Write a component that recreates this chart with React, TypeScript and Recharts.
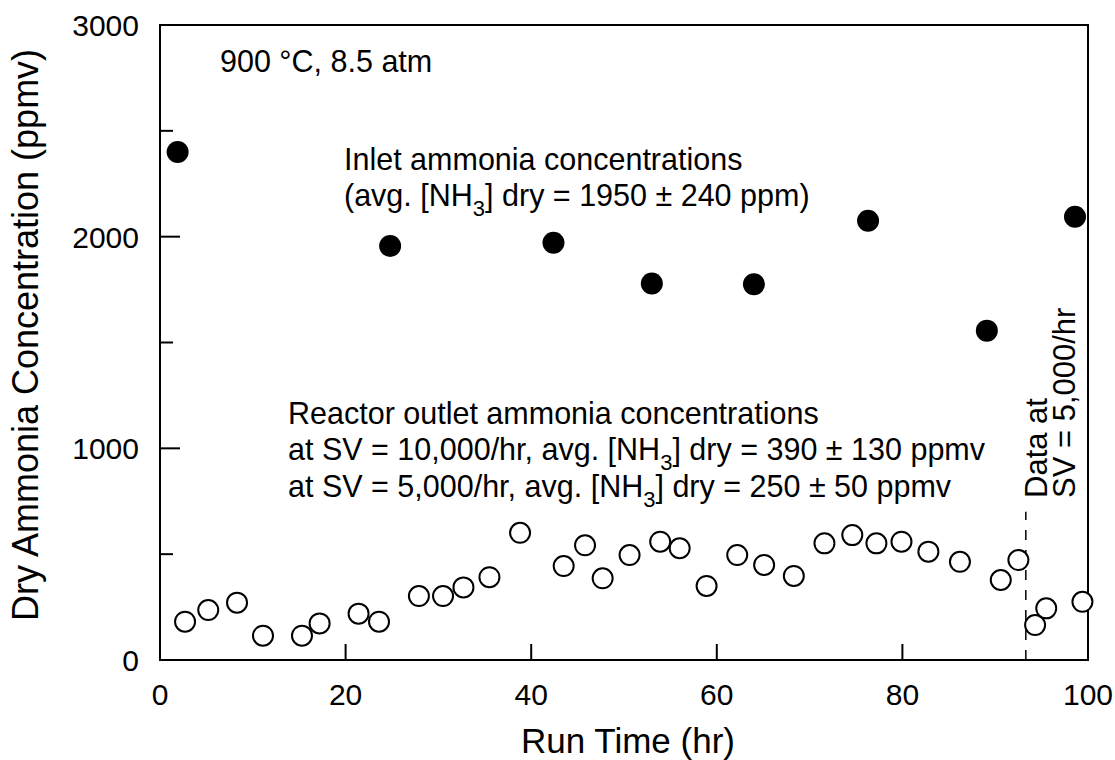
import React from 'react';
import { ScatterChart, Scatter, XAxis, YAxis, ReferenceArea, ReferenceLine } from 'recharts';

// inlet (filled) points
const inletTime = [1.9, 24.8, 42.4, 53.0, 64.0, 76.3, 89.1, 98.6];
const inletConc = [2400, 1956, 1971, 1779, 1775, 2075, 1556, 2094];

// reactor outlet at SV = 10,000/hr
const outletTime10k = [
  2.7, 5.2, 8.3, 11.1, 15.3, 17.2, 21.4, 23.6, 27.9, 30.5, 32.7, 35.5, 38.8, 43.5, 45.8, 47.7,
  50.6, 53.9, 56.0, 58.9, 62.2, 65.1, 68.3, 71.6, 74.6, 77.2, 79.9, 82.8, 86.2, 90.6, 92.5,
];
const outletConc10k = [
  181, 236, 271, 115, 115, 173, 219, 181, 302, 302, 343, 391, 601, 444, 542, 386,
  496, 559, 528, 350, 496, 449, 397, 551, 590, 551, 559, 512, 464, 378, 472,
];

// reactor outlet at SV = 5,000/hr
const outletTime5k = [94.3, 95.5, 99.4];
const outletConc5k = [165, 244, 275];

const svSwitchTime = 93.3;
const svSwitchTop = 700;

const xTicks = [0, 20, 40, 60, 80, 100];
const yTicks = [0, 500, 1000, 1500, 2000, 2500, 3000];

const FONT = '"Liberation Sans", Arial, Helvetica, sans-serif';
const NOTE = 30.5;

const toPoints = (xs: number[], ys: number[]) => xs.map((x, i) => ({ x, y: ys[i] }));

const inletData = toPoints(inletTime, inletConc);
const outlet10kData = toPoints(outletTime10k, outletConc10k);
const outlet5kData = toPoints(outletTime5k, outletConc5k);

const FilledDot = (p: any) => <circle cx={p.cx} cy={p.cy} r={11} fill="#000" />;
const OpenDot = (p: any) => (
  <circle cx={p.cx} cy={p.cy} r={10} fill="#fff" stroke="#000" strokeWidth={2} />
);

const XTick = (props: any) => {
  const { x, y, payload } = props;
  const v = payload.value;
  return (
    <g>
      {v > 0 && v < 100 && <line x1={x} x2={x} y1={y} y2={y - 16} stroke="#000" strokeWidth={2} />}
      <text x={x} y={y + 45} textAnchor="middle" fontSize={30} fontFamily={FONT} fill="#000">
        {v}
      </text>
    </g>
  );
};

const YTick = (props: any) => {
  const { x, y, payload } = props;
  const v = payload.value;
  const major = v % 1000 === 0;
  return (
    <g>
      {v > 0 && v < 3000 && (
        <line x1={x} x2={x + (major ? 20 : 13)} y1={y} y2={y} stroke="#000" strokeWidth={2} />
      )}
      {major && (
        <text x={x - 21} y={y + 11} textAnchor="end" fontSize={30} fontFamily={FONT} fill="#000">
          {v}
        </text>
      )}
    </g>
  );
};

const Sub3 = () => (
  <>
    <tspan fontSize={22} dy={10}>3</tspan>
    <tspan dy={-10}>]</tspan>
  </>
);

export default function App() {
  return (
    <div style={{ position: 'absolute', left: 0, top: 0, width: 1115, height: 760, background: '#fff' }}>
      <ScatterChart width={1115} height={760} margin={{ top: 25, right: 27, bottom: 0, left: 0 }}>
        <XAxis
          type="number"
          dataKey="x"
          domain={[0, 100]}
          ticks={xTicks}
          interval={0}
          height={100}
          axisLine={false}
          tickLine={false}
          tickSize={0}
          tickMargin={0}
          tick={<XTick />}
        />
        <YAxis
          type="number"
          dataKey="y"
          domain={[0, 3000]}
          ticks={yTicks}
          interval={0}
          width={160}
          axisLine={false}
          tickLine={false}
          tickSize={0}
          tickMargin={0}
          tick={<YTick />}
        />
        <ReferenceArea x1={0} x2={100} y1={0} y2={3000} fill="none" stroke="#000" strokeWidth={2} />
        <ReferenceLine
          segment={[
            { x: svSwitchTime, y: 0 },
            { x: svSwitchTime, y: svSwitchTop },
          ]}
          stroke="#000"
          strokeWidth={1.5}
          strokeDasharray="10 10"
        />
        <Scatter data={inletData} shape={FilledDot} isAnimationActive={false} />
        <Scatter data={outlet10kData} shape={OpenDot} isAnimationActive={false} />
        <Scatter data={outlet5kData} shape={OpenDot} isAnimationActive={false} />
      </ScatterChart>

      <svg
        width={1115}
        height={760}
        style={{ position: 'absolute', left: 0, top: 0, pointerEvents: 'none' }}
        fontFamily={FONT}
        fill="#000"
      >
        <text x={38} y={335} fontSize={36} textAnchor="middle" transform="rotate(-90 38 335)">
          Dry Ammonia Concentration (ppmv)
        </text>
        <text x={628} y={753} fontSize={35} textAnchor="middle">
          Run Time (hr)
        </text>

        <text x={220} y={72} fontSize={NOTE}>900 °C, 8.5 atm</text>

        <text x={344} y={170} fontSize={NOTE}>Inlet ammonia concentrations</text>
        <text x={344} y={206} fontSize={NOTE}>
          (avg. [NH<Sub3 /> dry = 1950 ± 240 ppm)
        </text>

        <text x={288} y={424} fontSize={NOTE}>Reactor outlet ammonia concentrations</text>
        <text x={288} y={460} fontSize={NOTE}>
          at SV = 10,000/hr, avg. [NH<Sub3 /> dry = 390 ± 130 ppmv
        </text>
        <text x={288} y={497} fontSize={NOTE}>
          at SV = 5,000/hr, avg. [NH<Sub3 /> dry = 250 ± 50 ppmv
        </text>

        <text x={1047} y={498} fontSize={31} transform="rotate(-90 1047 498)">Data at</text>
        <text x={1075} y={498} fontSize={31} transform="rotate(-90 1075 498)">SV = 5,000/hr</text>
      </svg>
    </div>
  );
}
